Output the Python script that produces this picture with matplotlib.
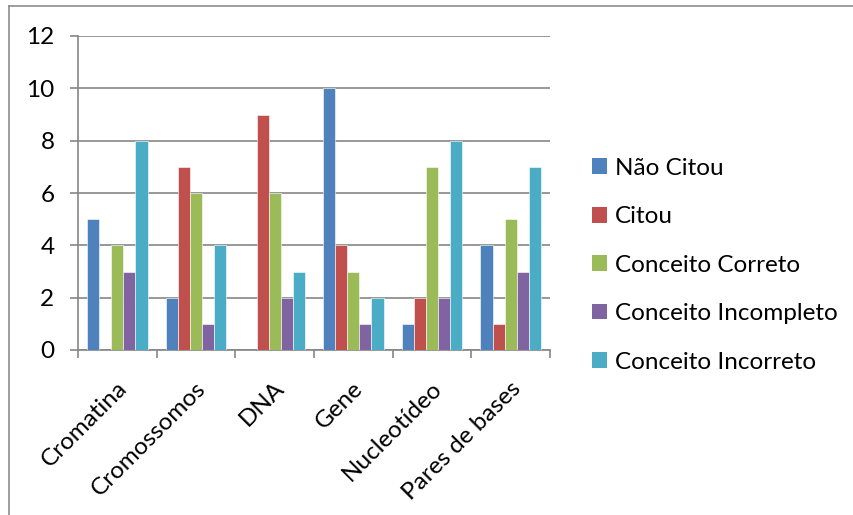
import matplotlib
matplotlib.use("Agg")
import matplotlib.pyplot as plt
import numpy as np
from matplotlib.patches import Patch
from matplotlib.lines import Line2D

categories = ["Cromatina", "Cromossomos", "DNA", "Gene", "Nucleotídeo", "Pares de bases"]
series_names = ["Não Citou", "Citou", "Conceito Correto", "Conceito Incompleto", "Conceito Incorreto"]
nao_citou = [5, 2, 0, 10, 1, 4]
citou = [0, 7, 9, 4, 2, 1]
correto = [4, 6, 6, 3, 7, 5]
incompleto = [3, 1, 2, 1, 2, 3]
incorreto = [8, 4, 3, 2, 8, 7]
colors = ["#4F81BD", "#C0504D", "#9BBB59", "#8064A2", "#4BACC6"]
yticks = [0, 2, 4, 6, 8, 10, 12]

plt.rcParams['font.family'] = ['Lato', 'DejaVu Sans']
FS = 17.5

fig = plt.figure(figsize=(8.54, 5.15), dpi=100)
ax = fig.add_axes([78/854, 1-350/515, (550-78)/854, (350-36)/515])

# outer frame (left and top edges visible)
fig.add_artist(Line2D([9/854, 9/854], [0, 1-6/515], transform=fig.transFigure, color="#8c8c8c", lw=1.2))
fig.add_artist(Line2D([9/854, 1], [1-6/515, 1-6/515], transform=fig.transFigure, color="#8c8c8c", lw=1.2))

data = [nao_citou, citou, correto, incompleto, incorreto]
n = len(data)
x = np.arange(len(categories))
bw = 1 / (n + 1.5)
for i, (vals, c, name) in enumerate(zip(data, colors, series_names)):
    offs = (i - (n - 1) / 2) * bw
    ax.bar(x + offs, vals, width=bw, color=c, edgecolor="white", linewidth=0.4, label=name, zorder=3)

ax.set_xlim(-0.5, len(categories) - 0.5)
ax.set_ylim(0, 12)
ax.set_yticks(yticks)
ax.set_yticklabels([str(t) for t in yticks], fontsize=FS)
ax.yaxis.grid(True, color="#868686", lw=1.2, zorder=0)
ax.set_axisbelow(True)

ax.set_xticks(np.arange(len(categories) + 1) - 0.5, minor=False)
ax.set_xticklabels([""] * (len(categories) + 1))
ax.set_xticks(x - 0.01, minor=True)
ax.set_xticklabels(categories, minor=True, rotation=45, ha="right", rotation_mode="anchor", fontsize=FS)
ax.tick_params(axis="x", which="minor", length=0, pad=20)
ax.tick_params(axis="x", which="major", length=6, color="#868686", width=1.2)
ax.tick_params(axis="y", length=6, color="#868686", width=1.2, pad=11)

for s in ["top", "right"]:
    ax.spines[s].set_visible(False)
for s in ["left", "bottom"]:
    ax.spines[s].set_color("#868686")
    ax.spines[s].set_linewidth(1.2)

handles = [Patch(facecolor=c, edgecolor="none") for c in colors]
fig.legend(handles, series_names, loc="upper left", bbox_to_anchor=(582/854, 1-148/515),
           frameon=False, fontsize=FS, handlelength=0.62, handleheight=0.62,
           handletextpad=0.35, labelspacing=1.13, borderaxespad=0)

fig.savefig("out.png", dpi=100, facecolor="white")
